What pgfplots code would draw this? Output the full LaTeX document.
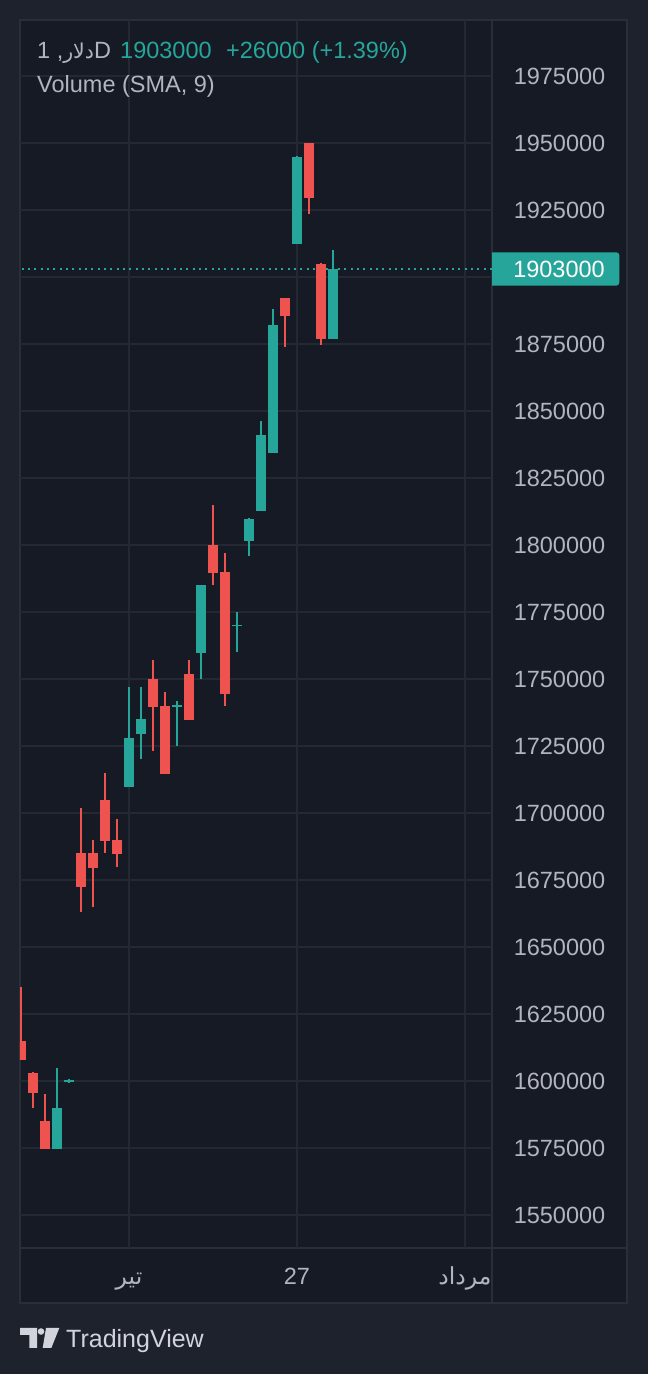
\documentclass[border=0pt]{standalone}
\usepackage{pgfplots}
\pgfplotsset{compat=1.18}
\usepackage{pgfplotstable}
\usepackage{fontspec}
\setmainfont{Liberation Sans}
\newfontfamily\arabicfont[Script=Arabic]{DejaVu Sans}
\TeXXeTstate=1

\definecolor{outerbg}{HTML}{1E222D}
\definecolor{plotbg}{HTML}{161A25}
\definecolor{gridc}{HTML}{242833}
\definecolor{framec}{HTML}{2A2E39}
\definecolor{txt}{HTML}{B2B5BE}
\definecolor{upc}{HTML}{26A69A}
\definecolor{downc}{HTML}{EF5350}
\definecolor{logoc}{HTML}{D1D4DC}

\newcommand\tvf{\fontsize{23.5}{28}\selectfont}

% k = candle index (x pixel = 21 + 12k); o h l c = open high low close
\pgfplotstableread{
k o h l c
3 1574600 1605000 1574600 1590000
4 1599500 1600600 1599400 1600500
9 1709700 1747000 1709700 1728000
10 1729500 1747000 1720000 1735000
13 1739500 1741800 1725000 1740200
15 1759700 1785000 1750000 1785000
18 1769700 1775000 1760000 1770300
19 1801500 1810000 1796000 1809700
20 1812700 1846300 1812700 1841000
21 1834400 1888000 1834400 1882000
23 1912300 1945100 1912300 1944800
26 1877000 1910000 1877000 1903000
}\upTable

\pgfplotstableread{
k o h l c
0 1615000 1635000 1608000 1608000
1 1603000 1603500 1590000 1595500
2 1585000 1595000 1574600 1574600
5 1685000 1702000 1663000 1672400
6 1685000 1690000 1665000 1679500
7 1705000 1715000 1685000 1689500
8 1690000 1697800 1680000 1684700
11 1750000 1757000 1723000 1739500
12 1740000 1745000 1714500 1714500
14 1752000 1757000 1734700 1734700
16 1800000 1815000 1785000 1789500
17 1790000 1797000 1740000 1744400
22 1892000 1892000 1874000 1885500
24 1950000 1950000 1923500 1929500
25 1905000 1905200 1874600 1877000
}\downTable

\pgfplotstableread{
k p
-1 1903000
40 1903000
}\lastTable

\pgfplotsset{candle/.style n args={2}{only marks, mark=*, mark size=0pt,
  mark options={draw=none, fill=none}, forget plot,
  error bars/.cd, y dir=both, y explicit, error mark=none,
  error bar style={draw=#1, line width=#2}}}

\newcommand\fa[1]{\raisebox{0pt}[16.8pt][0pt]{\arabicfont\beginR #1\endR}}

\begin{document}
\begin{tikzpicture}[x=1pt,y=1pt]
\fill[outerbg] (0,0) rectangle (648,1374);
\useasboundingbox (0,0) rectangle (648,1374);
\fill[plotbg] (20,71) rectangle (627,1354);
% frame
\draw[framec, line width=1.5pt] (20,71) rectangle (627,1354);
\draw[framec, line width=1.5pt] (492,71) -- (492,1354);
\draw[framec, line width=1.5pt] (20,126) -- (627,126);
\begin{axis}[
  at={(20pt,126pt)}, anchor=south west,
  scale only axis, width=472pt, height=1228pt,
  xmin=-0.08333, xmax=39.25, ymin=1537687, ymax=1995896,
  axis line style={draw=none},
  xtick={9,23,37},
  xticklabels={{\fa{تیر}},27,{\fa{مرداد}}},
  ytick={1550000,1575000,1600000,1625000,1650000,1675000,1700000,1725000,1750000,1775000,1800000,1825000,1850000,1875000,1900000,1925000,1950000,1975000},
  yticklabels={1550000,1575000,1600000,1625000,1650000,1675000,1700000,1725000,1750000,1775000,1800000,1825000,1850000,1875000,,1925000,1950000,1975000},
  scaled y ticks=false,
  major tick length=0pt,
  xmajorgrids, ymajorgrids,
  major grid style={gridc, line width=1.5pt},
  yticklabel pos=right,
  ticklabel style={font=\tvf, text=txt},
  yticklabel style={anchor=center, xshift=67.5pt},
  xticklabel style={anchor=center, yshift=-28pt},
]
% last price line
\addplot[upc, line width=1.5pt, dash pattern=on 2pt off 4.33pt, forget plot] table[x=k, y=p] {\lastTable};
% wicks
\addplot[candle={upc}{2pt}]
  table[x=k, y expr={(\thisrow{h}+\thisrow{l})/2}, y error expr={(\thisrow{h}-\thisrow{l})/2}] {\upTable};
\addplot[candle={downc}{2pt}]
  table[x=k, y expr={(\thisrow{h}+\thisrow{l})/2}, y error expr={(\thisrow{h}-\thisrow{l})/2}] {\downTable};
% bodies
\addplot[candle={upc}{10pt}]
  table[x=k, y expr={(\thisrow{o}+\thisrow{c})/2}, y error expr={(\thisrow{c}-\thisrow{o})/2}] {\upTable};
\addplot[candle={downc}{10pt}]
  table[x=k, y expr={(\thisrow{o}+\thisrow{c})/2}, y error expr={(\thisrow{o}-\thisrow{c})/2}] {\downTable};
\coordinate (cp) at (axis cs:39.25,1903000);
\end{axis}
% last price label
\begin{scope}[shift={(cp)}]
\fill[upc] (0,-16.65) [rounded corners=3pt] -- (127.3,-16.65) -- (127.3,16.65) [sharp corners] -- (0,16.65) -- cycle;
\node[text=white, font=\tvf, inner sep=0pt] at (67,0) {1903000};
\end{scope}
% header
\node[anchor=base west, inner sep=0pt, text=txt, font=\tvf] at (37,1315) {1 ,{\arabicfont\fontsize{20.5}{24}\selectfont\beginR دلار\endR}D};
\node[anchor=base west, inner sep=0pt, text=upc, font=\tvf] at (120,1315) {1903000};
\node[anchor=base west, inner sep=0pt, text=upc, font=\tvf] at (226,1315) {+26000 (+1.39\%)};
\node[anchor=base west, inner sep=0pt, text=txt, font=\tvf] at (37,1281.3) {Volume (SMA, 9)};
% TradingView logo
\fill[logoc] (20,46) -- (37,46) -- (37,26) -- (29.3,26) -- (29.3,39) -- (20,39) -- cycle;
\fill[logoc] (41,42.5) circle (3.3);
\fill[logoc] (46,46) -- (59.3,46) -- (51.3,26) -- (42.7,26) -- cycle;
\node[anchor=base west, inner sep=0pt, text=logoc, font=\fontsize{25}{30}\selectfont] at (66,26) {TradingView};
\end{tikzpicture}
\end{document}
